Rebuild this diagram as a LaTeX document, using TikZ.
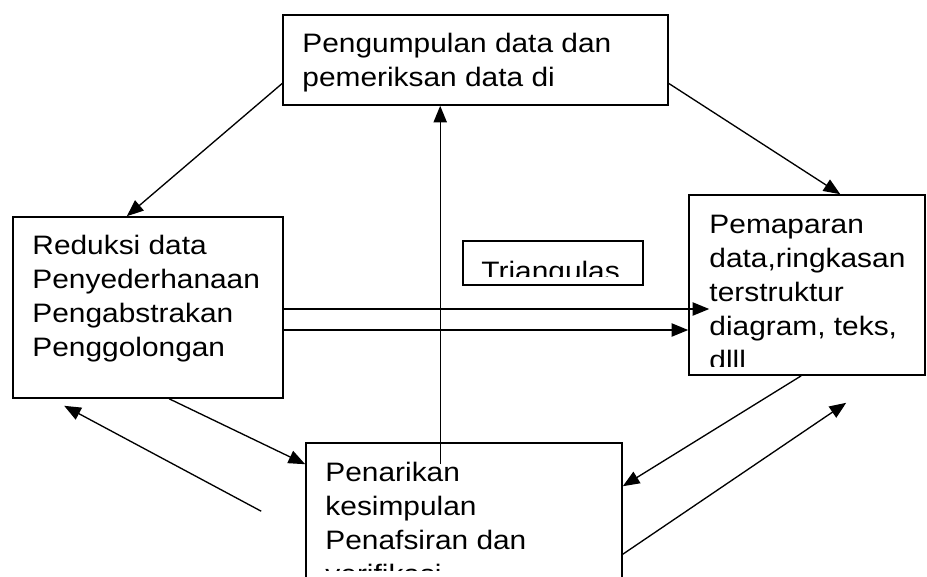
\documentclass[tikz,border=0pt]{standalone}
\usepackage{fontspec}
\setmainfont{Liberation Sans}[FakeStretch=1.12]
\usetikzlibrary{arrows.meta,calc}
\tikzset{
  box/.style={draw=black,line width=1.2pt,fill=white,inner sep=0pt},
  boxtext/.style={anchor=north west,inner sep=0pt,align=left,text=black,font={\fontsize{20}{25.5}\selectfont}},
  arrow/.style={-{Triangle[length=12.5pt,width=10pt]},line width=1pt,draw=black},
  plainline/.style={line width=1pt,draw=black}
}

\begin{document}
\begin{tikzpicture}[x=0.75pt,y=-0.75pt]
  \useasboundingbox (0,0) rectangle (927,576);
  \fill[white] (0,0) rectangle (927,576);
  % kotak
  \node[box,minimum width=288.75pt,minimum height=67.5pt] (kumpul) at (475.5,60) {};
  \node[box,minimum width=202.5pt,minimum height=135.75pt] (reduksi) at (148,307.5) {};
  \node[box,minimum width=177pt,minimum height=135pt] (sajian) at (807,285) {};
  \node[box,minimum width=135pt,minimum height=33pt] (triangulasi) at (553,263) {};
  \node[box,minimum width=237pt,minimum height=150pt] (simpul) at (464,543) {};
  % teks, terpotong di tepi bawah kotak
  \begin{scope}
    \clip (kumpul.north west) rectangle ($(kumpul.south east)+(0,-9)$);
    \node[boxtext] (kumpulText) at ($(kumpul.north west)+(20,18.7)$) {Pengumpulan data dan\\pemeriksan data di};
  \end{scope}
  \begin{scope}
    \clip (reduksi.north west) rectangle ($(reduksi.south east)+(0,-9)$);
    \node[boxtext] (reduksiText) at ($(reduksi.north west)+(20,18.7)$) {Reduksi data\\Penyederhanaan\\Pengabstrakan\\Penggolongan};
  \end{scope}
  \begin{scope}
    \clip (sajian.north west) rectangle ($(sajian.south east)+(0,-9)$);
    \node[boxtext] (sajianText) at ($(sajian.north west)+(21,20.7)$) {Pemaparan\\data,ringkasan\\terstruktur\\diagram, teks,\\dlll};
  \end{scope}
  \begin{scope}
    \clip (triangulasi.north west) rectangle ($(triangulasi.south east)+(0,-9)$);
    \node[boxtext] (triangulasiText) at ($(triangulasi.north west)+(19,21)$) {Triangulas};
  \end{scope}
  \begin{scope}
    \clip (simpul.north west) rectangle ($(simpul.north east)+(0,128)$);
    \node[boxtext] (simpulText) at ($(simpul.north west)+(20,19.7)$) {Penarikan\\kesimpulan\\Penafsiran dan\\verifikasi};
  \end{scope}
  % panah
  \draw[arrow] ($(kumpul.north west)!0.756!(kumpul.south west)$) -- ($(reduksi.north west)!0.422!(reduksi.north east)$);
  \draw[arrow] ($(kumpul.north east)!0.756!(kumpul.south east)$) -- ($(sajian.north west)!0.64!(sajian.north east)$);
  \coordinate (naik) at ($(simpul.north west)+(135,22)$);
  \draw[arrow] (naik) -- (naik |- kumpul.south);
  \coordinate (kanan1) at ($(sajian.west)+(21,24)$);
  \coordinate (kanan2) at ($(sajian.west)+(0,45)$);
  \draw[arrow] (reduksi.east |- kanan1) -- (kanan1);
  \draw[arrow] (reduksi.east |- kanan2) -- (kanan2);
  \draw[arrow] ($(reduksi.south west)+(157,0)$) -- ($(simpul.north west)+(0,22)$);
  \coordinate (ujungKiri) at ($(simpul.north west)+(-44,69)$);
  \draw[arrow] (ujungKiri) -- ($(reduksi.south west)+(52,7)$);
  \draw[arrow] ($(sajian.south west)+(113,0)$) -- ($(simpul.north east)+(0,44)$);
  \draw[arrow] ($(simpul.north east)+(0,112)$) -- ($(sajian.south west)+(158,27)$);
\end{tikzpicture}
\end{document}
